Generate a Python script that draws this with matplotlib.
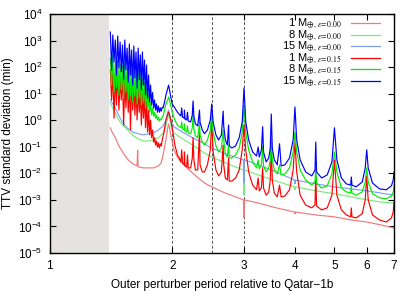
import numpy as np
import matplotlib
matplotlib.use("Agg")
from matplotlib import pyplot as plt
from matplotlib.font_manager import FontProperties
from matplotlib.ticker import FixedLocator, NullLocator, FixedFormatter

plt.rcParams["font.family"] = ["Liberation Sans", "DejaVu Sans"]
plt.rcParams["mathtext.fontset"] = "custom"
plt.rcParams["mathtext.rm"] = "Liberation Sans"
plt.rcParams["mathtext.it"] = "Liberation Sans:italic"

# unstable region and reference period ratios
unstable_lo, unstable_hi = 1.0, 1.4
marked_ratios = [2.0, 2.5, 3.0]

# chaotic part (shared sampling of period ratio)
noise_x = [1.41, 1.42, 1.43, 1.44, 1.45, 1.46, 1.47, 1.48, 1.49, 1.50,
           1.51, 1.52, 1.53, 1.54, 1.55, 1.56, 1.57, 1.58, 1.59, 1.60,
           1.61, 1.62, 1.63, 1.64, 1.65, 1.66, 1.67, 1.68, 1.69, 1.70,
           1.71, 1.72, 1.73, 1.74, 1.75, 1.76, 1.77, 1.78, 1.79, 1.80,
           1.81, 1.82, 1.83, 1.84, 1.85, 1.86, 1.87, 1.88, 1.89, 1.90,
           1.91, 1.92, 1.93, 1.95, 1.96]

blue_noise = [2100, 78, 1620, 155, 1050, 50, 1480, 93, 880, 66,
              680, 33, 1050, 78, 520, 27, 740, 50, 440, 21,
              620, 39, 370, 16, 520, 33, 290, 14, 370, 21,
              185, 8.9, 120, 6.9, 50, 4.8, 21, 3.75, 11, 2.9,
              5.8, 2.4, 4.1, 2.0, 3.4, 2.0, 2.9, 2.2, 3.1, 2.9,
              4.1, 5.8, 8.9, 16, 21]
green_noise = [220, 21, 290, 11.4, 155, 16.3, 185, 8.9, 130, 13.8,
               110, 6.9, 155, 11.4, 93, 5.8, 120, 8.9, 78, 4.8,
               93, 8.2, 66, 4.1, 78, 6.9, 50, 3.75, 39, 4.8,
               27, 2.9, 16.3, 2.4, 8.9, 2.0, 4.8, 1.57, 2.9, 1.43,
               2.0, 1.2, 1.57, 1.02, 1.3, 0.93, 1.1, 1.02, 1.3, 1.43,
               2.0, 2.9, 4.1, 5.8, 7.5]
red_noise = [78, 5.8, 66, 1.2, 50, 3.75, 78, 2.4, 39, 5.8,
             46, 0.66, 33, 2.9, 39, 2.0, 27, 0.43, 33, 2.4,
             21, 1.57, 23, 1.02, 16.3, 2.0, 13.8, 0.66, 11.4, 1.2,
             8.2, 0.52, 5.8, 0.36, 2.4, 0.28, 1.02, 0.22, 0.43, 0.15,
             0.22, 0.117, 0.165, 0.098, 0.14, 0.09, 0.13, 0.107, 0.18, 0.26,
             0.36, 0.61, 1.02, 1.7, 2.0]

# resonant part, eccentric perturbers (epsilon = 0.15)
res_x = [1.98, 2.00, 2.03, 2.06, 2.08, 2.10, 2.11, 2.12, 2.14, 2.143,
         2.15, 2.17, 2.18, 2.19, 2.22, 2.24, 2.25, 2.26, 2.28, 2.31,
         2.333, 2.34, 2.37, 2.40, 2.44, 2.48, 2.50, 2.52, 2.56, 2.60,
         2.64, 2.667, 2.675, 2.70, 2.73, 2.75, 2.76, 2.80, 2.86, 2.92,
         2.97, 3.00, 3.03, 3.08, 3.15, 3.22, 3.25, 3.27, 3.31, 3.333,
         3.35, 3.40, 3.45, 3.48, 3.50, 3.52, 3.56, 3.62, 3.667, 3.70,
         3.78, 3.88, 3.96, 4.00, 4.04, 4.12, 4.25, 4.40, 4.48, 4.50,
         4.52, 4.65, 4.80, 4.93, 5.00, 5.07, 5.20, 5.35, 5.48, 5.50,
         5.52, 5.65, 5.85, 5.95, 6.00, 6.05, 6.20, 6.45, 6.70, 6.90,
         6.97, 7.00]

blue_res = [8.9, 4.1, 2.9, 2.0, 1.7, 1.43, 2.9, 1.3, 1.2, 2.4,
            1.1, 1.02, 2.0, 0.93, 0.86, 1.57, 5.3, 1.43, 0.73, 0.61,
            2.4, 0.86, 0.43, 0.31, 0.43, 1.02, 4.1, 0.86, 0.28, 0.18,
            0.28, 2.2, 0.61, 0.18, 0.117, 0.66, 0.107, 0.09, 0.107, 0.22,
            0.86, 16.3, 0.86, 0.18, 0.064, 0.045, 0.098, 0.041, 0.076, 0.57,
            0.064, 0.027, 0.038, 0.09, 1.7, 0.09, 0.032, 0.021, 0.13, 0.019,
            0.021, 0.038, 0.18, 3.15, 0.18, 0.032, 0.0113, 0.008, 0.0134, 0.15,
            0.0113, 0.0067, 0.0087, 0.027, 0.52, 0.032, 0.0067, 0.004, 0.0036, 0.0073,
            0.0036, 0.0031, 0.0047, 0.016, 0.076, 0.016, 0.0043, 0.0026, 0.0024, 0.0034,
            0.0056, 0.0113]
green_res = [4.1, 2.0, 1.02, 0.66, 0.58, 0.52, 0.86, 0.47, 0.43, 0.73,
             0.39, 0.36, 0.61, 0.33, 0.31, 0.52, 1.7, 0.47, 0.26, 0.22,
             0.86, 0.28, 0.15, 0.117, 0.18, 0.43, 2.0, 0.36, 0.107, 0.064,
             0.09, 0.43, 0.18, 0.054, 0.041, 0.117, 0.038, 0.038, 0.049, 0.09,
             0.36, 3.4, 0.36, 0.076, 0.027, 0.016, 0.032, 0.0147, 0.021, 0.107,
             0.019, 0.0113, 0.016, 0.032, 0.18, 0.032, 0.0134, 0.0095, 0.021, 0.0087,
             0.0095, 0.016, 0.064, 0.36, 0.064, 0.0134, 0.0056, 0.0036, 0.0051, 0.016,
             0.0043, 0.0028, 0.0034, 0.0095, 0.064, 0.0113, 0.0028, 0.002, 0.0018, 0.0036,
             0.0018, 0.0015, 0.002, 0.0047, 0.016, 0.0047, 0.0017, 0.0012, 0.0011, 0.0014,
             0.002, 0.0036]
red_res = [1.2, 0.52, 0.117, 0.049, 0.038, 0.027, 0.076, 0.025, 0.021, 0.064,
           0.019, 0.0175, 0.049, 0.016, 0.016, 0.038, 0.22, 0.032, 0.0134, 0.0134,
           0.36, 0.021, 0.0113, 0.0113, 0.021, 0.076, 0.86, 0.064, 0.0134, 0.008,
           0.0113, 0.117, 0.021, 0.0067, 0.0056, 0.038, 0.0051, 0.0051, 0.0067, 0.0134,
           0.076, 0.66, 0.076, 0.0113, 0.0036, 0.0024, 0.0067, 0.0022, 0.0028, 0.016,
           0.0028, 0.0015, 0.002, 0.0056, 0.098, 0.0056, 0.0018, 0.0013, 0.0036, 0.0013,
           0.0014, 0.0024, 0.0134, 0.15, 0.0113, 0.0015, 0.00064, 0.0005, 0.00064, 0.0087,
           0.00059, 0.00042, 0.0005, 0.0015, 0.032, 0.0015, 0.00042, 0.00027, 0.00023, 0.0005,
           0.00023, 0.00021, 0.0003, 0.001, 0.008, 0.001, 0.00027, 0.000175, 0.000147, 0.00021,
           0.00035, 0.00083]

# circular perturbers (epsilon = 0.00)
circ_x = [1.41, 1.43, 1.45, 1.47, 1.49, 1.52, 1.55, 1.60, 1.65, 1.70,
          1.75, 1.80, 1.85, 1.90, 1.93, 1.95, 1.96, 1.97, 1.99, 2.02,
          2.10, 2.20, 2.30, 2.40, 2.50, 2.70, 2.90, 2.99, 3.00, 3.01,
          3.30, 3.60, 3.99, 4.00, 4.01, 4.50, 5.00, 5.50, 6.00, 6.50,
          7.00]
lblue_circ = [5.8, 4.1, 2.9, 1.85, 1.2, 0.73, 0.52, 0.36, 0.31, 0.28,
              0.31, 0.33, 0.43, 0.61, 1.02, 2.0, 2.4, 1.7, 0.86, 0.57,
              0.39, 0.26, 0.18, 0.13, 0.09, 0.054, 0.038, 0.032, 0.0043, 0.032,
              0.019, 0.0113, 0.0056, 0.004, 0.0056, 0.004, 0.0031, 0.0026, 0.0022, 0.0018,
              0.0015]
lgreen_circ = [4.4, 2.9, 1.85, 1.2, 0.85, 0.62, 0.45, 0.27, 0.2, 0.165,
               0.165, 0.18, 0.22, 0.33, 0.61, 1.2, 1.7, 1.2, 0.52, 0.33,
               0.22, 0.14, 0.09, 0.058, 0.041, 0.025, 0.016, 0.0134, 0.0015, 0.0134,
               0.008, 0.0051, 0.0031, 0.0024, 0.0031, 0.0022, 0.0017, 0.0013, 0.001, 0.00083,
               0.00076]
lred_x = [1.41, 1.42, 1.45, 1.48, 1.52, 1.56, 1.60, 1.64, 1.645, 1.65,
          1.70, 1.75, 1.80, 1.85, 1.88, 1.90, 1.93, 1.95, 1.96, 1.97,
          1.99, 2.02, 2.06, 2.10, 2.20, 2.30, 2.40, 2.50, 2.70, 2.90,
          2.99, 3.00, 3.01, 3.30, 3.60, 3.99, 4.00, 4.01, 4.50, 5.00,
          5.50, 6.00, 6.50, 7.00]
lred_circ = [0.52, 0.39, 0.22, 0.107, 0.054, 0.032, 0.023, 0.019, 0.076, 0.0175,
             0.016, 0.016, 0.016, 0.019, 0.025, 0.049, 0.18, 0.52, 0.73, 0.52,
             0.22, 0.076, 0.041, 0.027, 0.0134, 0.0073, 0.0043, 0.0031, 0.0018, 0.0012,
             0.001, 0.00021, 0.001, 0.00072, 0.0005, 0.00035, 0.0003, 0.00035, 0.00027, 0.00023,
             0.000175, 0.000147, 0.000114, 0.000088]

labels = [r"1 M$_{\oplus,\,\varepsilon\!=\!0.00}$",
          r"8 M$_{\oplus,\,\varepsilon\!=\!0.00}$",
          r"15 M$_{\oplus,\,\varepsilon\!=\!0.00}$",
          r"1 M$_{\oplus,\,\varepsilon\!=\!0.15}$",
          r"8 M$_{\oplus,\,\varepsilon\!=\!0.15}$",
          r"15 M$_{\oplus,\,\varepsilon\!=\!0.15}$"]
colors = ["#f07a7a", "#7de87d", "#7f9ff0", "#ff0000", "#00ee00", "#0000ff"]

fig = plt.figure(figsize=(4.15, 2.91), dpi=100)
ax = fig.add_axes([0.1193, 0.1306, 0.8301, 0.8213])

ax.axvspan(unstable_lo, unstable_hi, color="#e6e2e2", lw=0, zorder=0)
for r in marked_ratios:
    ax.axvline(r, color="#555555", lw=0.7, ls=(0, (3, 2)), zorder=1)

series = [
    (lred_x, lred_circ),
    (circ_x, lgreen_circ),
    (circ_x, lblue_circ),
    (noise_x + res_x, red_noise + red_res),
    (noise_x + res_x, green_noise + green_res),
    (noise_x + res_x, blue_noise + blue_res),
]
for (xs, ys), c in zip(series, colors):
    ax.plot(xs, ys, color=c, lw=0.85, zorder=2)

ax.set_xscale("log")
ax.set_yscale("log")
ax.set_xlim(1, 7)
ax.set_ylim(1e-5, 1e4)

xt = [1, 2, 3, 4, 5, 6, 7]
ax.xaxis.set_major_locator(FixedLocator(xt))
ax.xaxis.set_major_formatter(FixedFormatter([str(v) for v in xt]))
ax.xaxis.set_minor_locator(NullLocator())
ax.yaxis.set_major_locator(FixedLocator([10.0 ** k for k in range(-5, 5)]))
ax.yaxis.set_minor_locator(NullLocator())
ax.tick_params(direction="in", length=4, width=0.8, top=True, right=True,
               labelsize=8.5, pad=5)
for s in ax.spines.values():
    s.set_linewidth(1.0)

ax.set_xlabel("Outer perturber period relative to Qatar\u22121b", fontsize=8.5, labelpad=5)
ax.set_ylabel("TTV standard deviation (min)", fontsize=8.5, labelpad=3)

# key, gnuplot style: right-aligned text then sample line
fp = FontProperties(family="Liberation Sans", size=8, math_fontfamily="stix")
for i, (lab, c) in enumerate(zip(labels, colors)):
    yy = 0.961 - i * 0.0482
    ax.text(0.848, yy - 0.014, lab, ha="right", va="baseline",
            fontproperties=fp, transform=ax.transAxes)
    ax.plot([0.874, 0.959], [yy, yy], color=c, lw=0.9, transform=ax.transAxes)

fig.savefig("out.png", dpi=100)
